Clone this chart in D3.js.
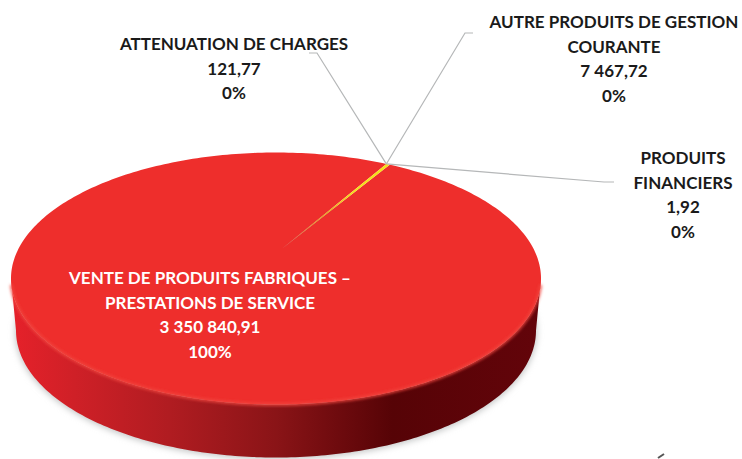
<!DOCTYPE html>
<html>
<head>
    <meta charset="utf-8">
    <title>Produits</title>
    <script src="https://d3js.org/d3.v7.min.js"></script>
    <style>
        html, body { margin: 0; padding: 0; background: #fff; overflow: hidden; }
        svg { display: block; }
        text { font-family: Lato, "Open Sans", sans-serif; font-weight: 700; font-size: 17px; text-anchor: middle; }
        .outer { fill: #1a1a1a; }
        .inner { fill: #fff; }
    </style>
</head>
<body>
    <svg width="742" height="459"></svg>
    <script>
        // Values
        var categories = ["VENTE DE PRODUITS FABRIQUES – PRESTATIONS DE SERVICE", "AUTRE PRODUITS DE GESTION COURANTE", "ATTENUATION DE CHARGES", "PRODUITS FINANCIERS"];
        var values = [3350840.91, 7467.72, 121.77, 1.92];
        var valueLabels = ["3 350 840,91", "7 467,72", "121,77", "1,92"];
        var percentLabels = ["100%", "0%", "0%", "0%"];
        var labelLines = [
            ["VENTE DE PRODUITS FABRIQUES –", "PRESTATIONS DE SERVICE"],
            ["AUTRE PRODUITS DE GESTION", "COURANTE"],
            ["ATTENUATION DE CHARGES"],
            ["PRODUITS", "FINANCIERS"]
        ];
        var colors = ["#ee2e2c", "#f5e01a", "#c9a227", "#e8641b"];

        var svg = d3.select("svg");
        var defs = svg.append("defs");

        // Geometry of the tilted disc
        var cx = 276, cy = 278.5, rx = 265, ry = 126, depth = 52;
        var apex = [cx + 5, cy - 29];        // perspective moves the visible centre up
        var firstAngle = 24.6 * Math.PI / 180;

        // big slice ends where the small ones begin
        var bigAngle = 2 * Math.PI * values[0] / d3.sum(values);
        var pie = d3.pie().sort(null).value(function(d) { return d; })
            .startAngle(firstAngle - bigAngle).endAngle(firstAngle - bigAngle + 2 * Math.PI);
        var arcs = pie(values);

        function rim(a) { return [cx + rx * Math.sin(a), cy - ry * Math.cos(a)]; }
        function samples(a0, a1) {
            var n = Math.max(2, Math.ceil(Math.abs(a1 - a0) * 60));
            return d3.range(n + 1).map(function(i) { return a0 + (a1 - a0) * i / n; });
        }
        var line = d3.line();

        // Blurred shadow under the disc
        defs.append("filter").attr("id", "blur").attr("x", "-10%").attr("y", "-10%").attr("width", "120%").attr("height", "120%")
            .append("feGaussianBlur").attr("stdDeviation", 3);
        defs.append("filter").attr("id", "soft").attr("x", "-10%").attr("y", "-20%").attr("width", "120%").attr("height", "140%")
            .append("feGaussianBlur").attr("stdDeviation", 1.6);

        svg.append("ellipse")
            .attr("cx", cx).attr("cy", cy + depth + 1)
            .attr("rx", rx - 4).attr("ry", ry + 2)
            .attr("fill", "#c4c6c6").attr("filter", "url(#blur)");

        // Side wall, dark to the right
        var wallGrad = defs.append("linearGradient").attr("id", "wall")
            .attr("gradientUnits", "userSpaceOnUse")
            .attr("x1", cx - rx).attr("x2", cx + rx).attr("y1", 0).attr("y2", 0);
        [[0, "#e6212a"], [0.12, "#cf2027"], [0.3, "#b01c21"], [0.5, "#8a1417"], [0.72, "#560306"], [1, "#63040a"]]
            .forEach(function(s) { wallGrad.append("stop").attr("offset", s[0]).attr("stop-color", s[1]); });

        function wallPath(a0, a1) {
            var top = samples(a0, a1).map(rim);
            var bottom = samples(a1, a0).map(function(a) {
                return [cx + (rx - 5) * Math.sin(a), cy + depth - (ry + 1) * Math.cos(a)];
            });
            return line(top.concat(bottom)) + "Z";
        }
        svg.append("path")
            .attr("d", wallPath(Math.PI / 2, 3 * Math.PI / 2))
            .attr("fill", "url(#wall)");

        // Top face, one wedge per value
        var rimGrad = defs.append("linearGradient").attr("id", "fade")
            .attr("gradientUnits", "userSpaceOnUse")
            .attr("x1", rim(firstAngle)[0]).attr("y1", rim(firstAngle)[1])
            .attr("x2", apex[0]).attr("y2", apex[1]);
        rimGrad.append("stop").attr("offset", 0.3).attr("stop-color", colors[1]);
        rimGrad.append("stop").attr("offset", 0.7).attr("stop-color", "#f08a20");
        rimGrad.append("stop").attr("offset", 1).attr("stop-color", colors[0]);

        svg.selectAll("path.slice")
            .data(arcs)
            .enter().append("path")
            .attr("class", "slice")
            .attr("d", function(d) {
                return line([apex].concat(samples(d.startAngle, d.endAngle).map(rim))) + "Z";
            })
            .attr("fill", function(d, i) { return i == 1 ? "url(#fade)" : colors[i]; });

        // Soft lighter bevel along the front edge of the top face
        svg.append("path")
            .attr("d", line(samples(Math.PI / 2 + 0.05, 3 * Math.PI / 2 - 0.05).map(rim)))
            .attr("fill", "none").attr("stroke", "#f2463f").attr("stroke-width", 2.5)
            .attr("filter", "url(#soft)");

        // Leader lines
        var leaderEnds = [[[473, 33], [465, 33]], [[309, 53], [317, 53]], [[614, 182], [604, 182]]];
        var hub = rim(firstAngle);
        svg.selectAll("path.leader")
            .data(leaderEnds)
            .enter().append("path")
            .attr("class", "leader")
            .attr("d", function(d) { return line(d.concat([hub])); })
            .attr("fill", "none").attr("stroke", "#b5b7b8").attr("stroke-width", 1.2);

        // Labels
        var labelPos = [[210, 278], [614, 22], [234, 44], [683, 158]];
        var lineGap = 24.6;
        categories.forEach(function(c, i) {
            var rows = labelLines[i].concat([valueLabels[i], percentLabels[i]]);
            var g = svg.append("g").attr("class", i == 0 ? "inner" : "outer");
            g.selectAll("text").data(rows).enter().append("text")
                .attr("x", labelPos[i][0])
                .attr("y", function(d, j) { return labelPos[i][1] + j * lineGap; })
                .attr("dy", "0.35em")
                .text(function(d) { return d; });
        });

        // Small dark speck at the bottom edge, bottom right of the crop
        svg.append("path")
            .attr("d", line([[658, 458], [664, 454]]))
            .attr("stroke", "#555").attr("stroke-width", 2).attr("fill", "none");
    </script>
</body>
</html>
